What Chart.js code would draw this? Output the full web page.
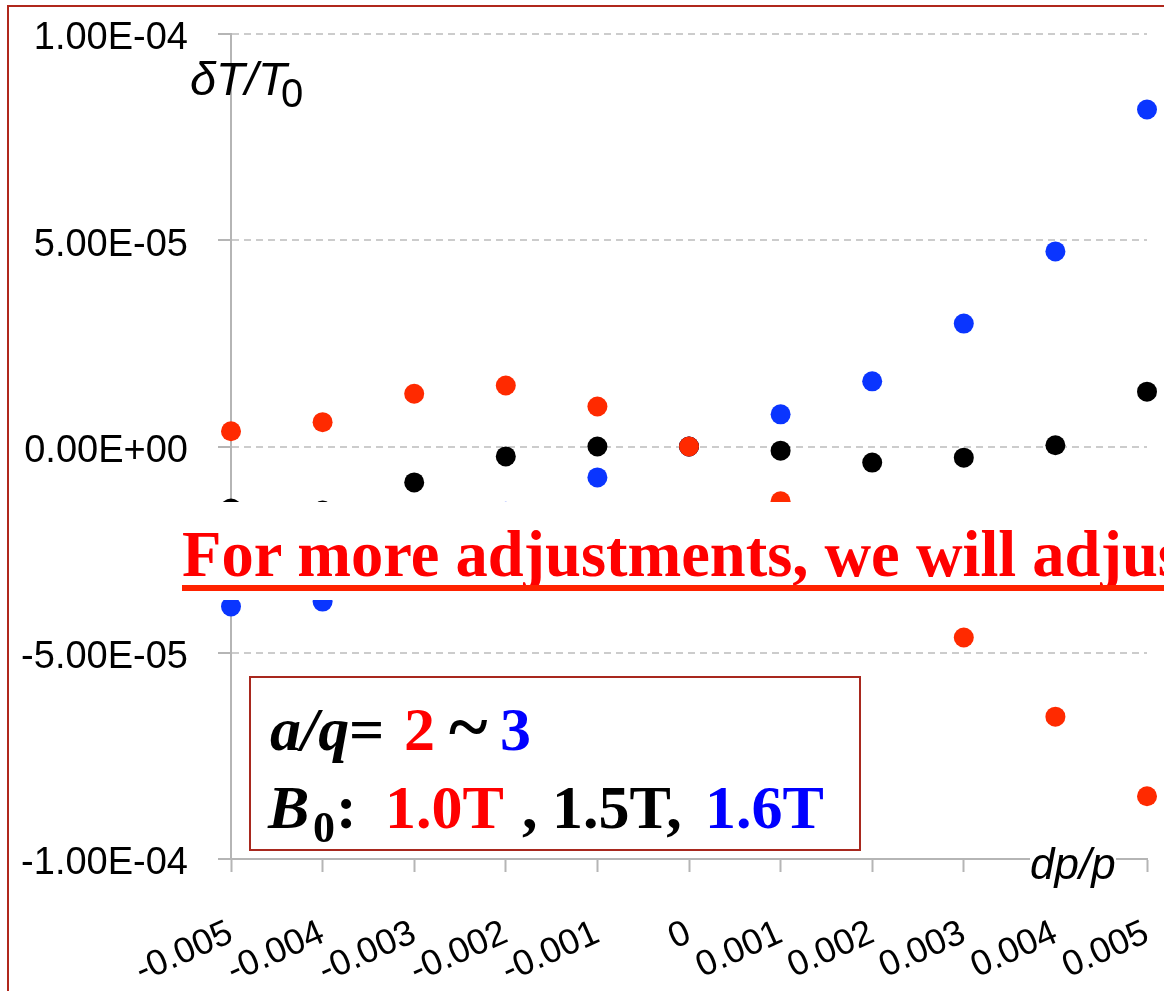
<!DOCTYPE html>
<html>
<head>
<meta charset="utf-8">
<script src="https://cdn.jsdelivr.net/npm/chart.js@4.4.1/dist/chart.umd.min.js"></script>
<style>
  html, body { margin: 0; padding: 0; background: #fff; overflow: hidden; }
  #wrap { position: relative; width: 1164px; height: 991px; overflow: hidden; background: #fff; }
  #frame { position: absolute; left: 7px; top: 5px; width: 1300px; height: 1200px; border: 2px solid #b0281c; box-sizing: border-box; }
  canvas { position: absolute; left: 0; top: 0; }
  .t { position: absolute; white-space: nowrap; line-height: 1; }
  .sans { font-family: "Liberation Sans", Arial, sans-serif; }
  .serif { font-family: "Liberation Serif", "Times New Roman", serif; font-weight: bold; }
  .red { color: #ff0000; }
  .blue { color: #0000ff; }
</style>
</head>
<body>
<div id="wrap">
  <div id="frame"></div>
  <canvas id="chart" width="1164" height="991"></canvas>

  <!-- axis titles -->
  <div class="t sans" style="left:190px; top:55px; font-size:47px; font-style:italic;">δT/T</div>
  <div class="t sans" style="left:281px; top:73px; font-size:40px;">0</div>
  <div class="t sans" style="left:1030px; top:842px; font-size:44px; font-style:italic; background:#fff;">dp/p</div>

  <!-- banner over the chart -->
  <div style="position:absolute; left:12px; top:502px; width:1152px; height:98px; background:#fff;"></div>
  <div class="t serif red" style="left:182px; top:523px; font-size:64.5px;">For more adjustments, we will adjust</div>
  <div style="position:absolute; left:182px; top:585px; width:982px; height:6px; background:#ff2200;"></div>

  <!-- legend box -->
  <div style="position:absolute; left:249px; top:676px; width:612px; height:175px; border:2px solid #a8281e; box-sizing:border-box; background:#fff;"></div>
  <div class="t serif" style="left:270px; top:698px; font-size:62px; font-style:italic;">a/q</div>
  <div class="t serif" style="left:349px; top:698px; font-size:62px;">=</div>
  <div class="t serif red" style="left:404px; top:698px; font-size:62px;">2</div>
  <div class="t serif" style="left:449px; top:689px; font-size:74px;">~</div>
  <div class="t serif blue" style="left:500px; top:698px; font-size:62px;">3</div>

  <div class="t serif" style="left:268px; top:776px; font-size:62px; font-style:italic;">B</div>
  <div class="t serif" style="left:313px; top:806px; font-size:44px;">0</div>
  <div class="t serif" style="left:336px; top:776px; font-size:62px;">:</div>
  <div class="t serif red" style="left:385px; top:776px; font-size:62px;">1.0T</div>
  <div class="t serif" style="left:522px; top:776px; font-size:62px;">,</div>
  <div class="t serif" style="left:552px; top:776px; font-size:62px;">1.5T,</div>
  <div class="t serif blue" style="left:705px; top:776px; font-size:62px;">1.6T</div>
</div>

<script>
// dp/p positions and tick labels
const dpp = [-0.005, -0.004, -0.003, -0.002, -0.001, 0, 0.001, 0.002, 0.003, 0.004, 0.005];
const xTicks = [-0.005, -0.004, -0.003, -0.002, -0.001, 0, 0.001, 0.002, 0.003, 0.004, 0.005];
const xTickLabels = ["-0.005", "-0.004", "-0.003", "-0.002", "-0.001", "0", "0.001", "0.002", "0.003", "0.004", "0.005"];
const yTicks = [-1e-4, -5e-5, 0, 5e-5, 1e-4];
const yTickLabels = ["-1.00E-04", "-5.00E-05", "0.00E+00", "5.00E-05", "1.00E-04"];

// dT/T0 for each field
const b10 = [3.7e-6, 5.9e-6, 1.28e-5, 1.48e-5, 9.7e-6, 0, -1.33e-5, -2.8e-5, -4.63e-5, -6.55e-5, -8.48e-5];
const b15 = [-1.5e-5, -1.55e-5, -8.7e-6, -2.4e-6, 0, 0, -1.0e-6, -3.9e-6, -2.7e-6, 0.3e-6, 1.33e-5];
const b16 = [-3.88e-5, -3.76e-5, -2.7e-5, -1.58e-5, -7.5e-6, 0, 7.8e-6, 1.58e-5, 2.98e-5, 4.73e-5, 8.17e-5];

function pts(vals) {
    return dpp.map((x, i) => ({x: x, y: vals[i]}));
}

function dots(label, vals, color) {
    return {
        label: label,
        data: pts(vals),
        backgroundColor: color,
        borderWidth: 0,
        pointRadius: 10,
        pointHoverRadius: 10,
        clip: false
    };
}

const axisGrey = "#b5b5b5";

new Chart(document.getElementById("chart"), {
    type: "scatter",
    data: {
        // first dataset is drawn on top
        datasets: [
            dots("1.0T", b10, "#ff2a00"),
            dots("1.5T", b15, "#000000"),
            dots("1.6T", b16, "#0a35ff")
        ]
    },
    options: {
        responsive: false,
        animation: false,
        layout: {padding: {top: 34, right: 17, left: 0, bottom: 0}},
        plugins: {
            legend: {display: false},
            tooltip: {enabled: false}
        },
        scales: {
            x: {
                type: "linear",
                min: -0.005,
                max: 0.005,
                afterBuildTicks: s => { s.ticks = xTicks.map(v => ({value: v})); },
                afterFit: s => { s.height = 132; s.paddingLeft = 0; s.paddingRight = 0; },
                ticks: {
                    callback: (v, i) => xTickLabels[i],
                    autoSkip: false,
                    minRotation: 24,
                    maxRotation: 24,
                    padding: 40,
                    color: "#000",
                    font: {family: "Liberation Sans", size: 36}
                },
                grid: {drawOnChartArea: false, tickLength: 13, tickColor: axisGrey, tickWidth: 2},
                border: {color: axisGrey, width: 2}
            },
            y: {
                min: -1e-4,
                max: 1e-4,
                afterBuildTicks: s => { s.ticks = yTicks.map(v => ({value: v})); },
                afterFit: s => { s.width = 231; s.paddingTop = 0; s.paddingBottom = 0; },
                ticks: {
                    callback: (v, i) => yTickLabels[i],
                    padding: 30,
                    labelOffset: 5,
                    color: "#000",
                    font: {family: "Liberation Sans", size: 38}
                },
                grid: {color: "#cccccc", lineWidth: 2, tickLength: 13, tickColor: axisGrey, tickWidth: 2, tickBorderDash: []},
                border: {color: axisGrey, width: 2, dash: [7, 5]}
            }
        }
    }
});
</script>
</body>
</html>
